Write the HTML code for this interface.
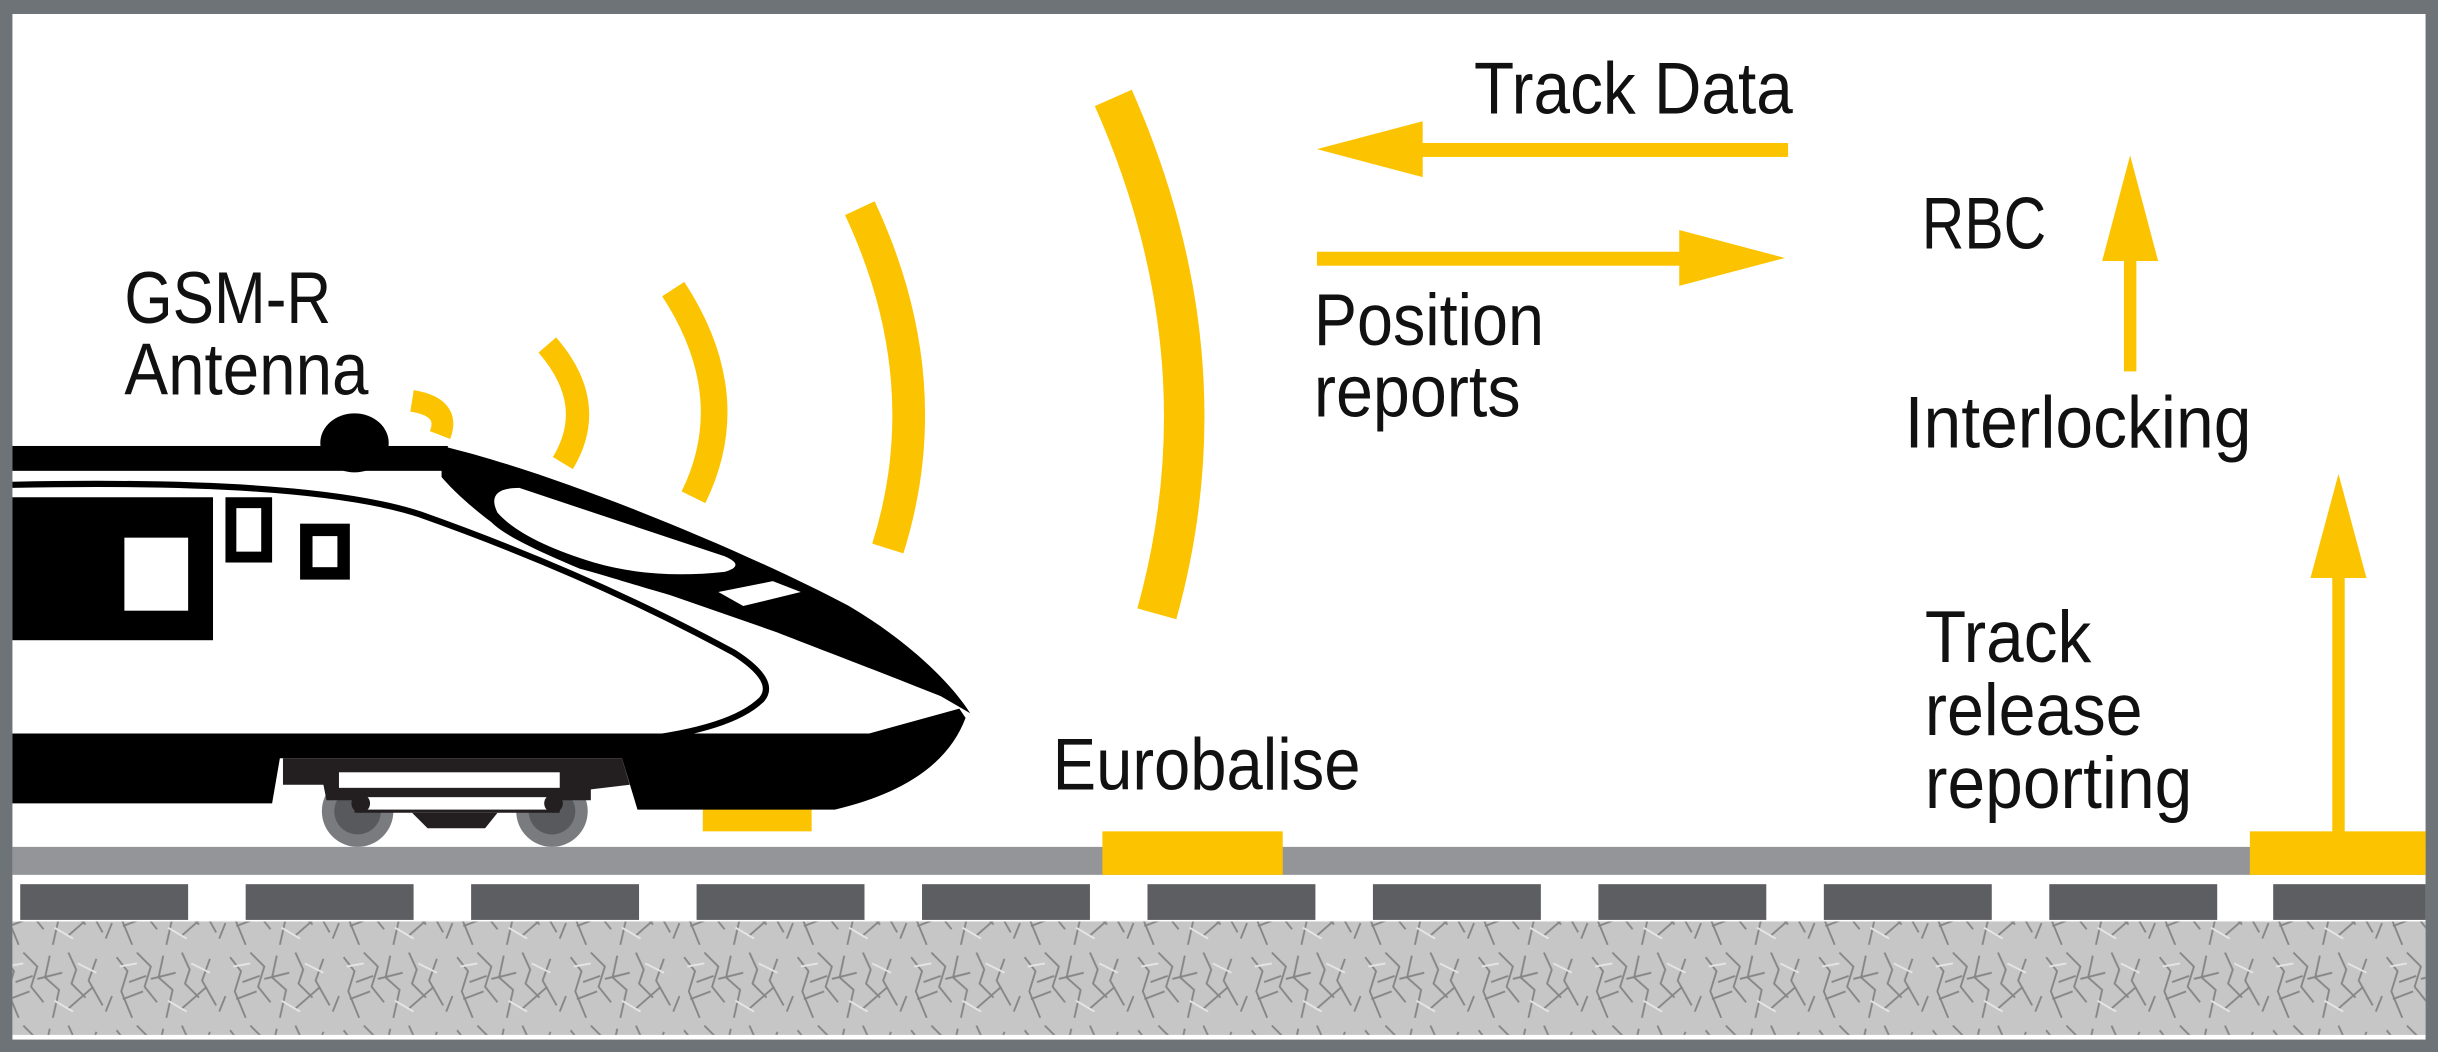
<!DOCTYPE html>
<html><head><meta charset="utf-8"><style>
html,body{margin:0;padding:0;background:#6d7376;}
svg{display:block;}
text{font-family:"Liberation Sans Narrow","Liberation Sans",sans-serif;fill:#111;font-size:47px;}
</style></head><body>
<svg width="2438" height="1052" viewBox="0 0 1568 677" preserveAspectRatio="none" xmlns="http://www.w3.org/2000/svg">
<defs>
<pattern id="bal" width="73" height="47" patternUnits="userSpaceOnUse">
<rect width="73" height="47" fill="#c6c6c6"/>
<path d="M2 5 L9 14 L5 27 L12 44 M15 2 L24 11 L20 24 L28 34 M32 4 L29 18 L38 26 L34 44 M44 2 L49 13 L46 22 L55 31 M62 6 L57 20 L66 36 M6 32 L19 27 M24 19 L40 15 M44 38 L60 24 M10 21 L21 17 M68 40 L72 30" stroke="#858585" stroke-width="1.2" fill="none"/>
<path d="M4 11 L15 9 M35 33 L47 40 M50 9 L62 15" stroke="#e6e6e6" stroke-width="1.2" fill="none"/>
</pattern>
</defs>
<rect x="0" y="0" width="1568" height="677" fill="#6d7376"/>
<rect x="8" y="9" width="1552" height="660" fill="#fff"/>
<rect x="8" y="593" width="1552" height="73" fill="url(#bal)"/>
<g fill="#5d5e62">
<rect x="13" y="569" width="108" height="23"/><rect x="158" y="569" width="108" height="23"/>
<rect x="303" y="569" width="108" height="23"/><rect x="448" y="569" width="108" height="23"/>
<rect x="593" y="569" width="108" height="23"/><rect x="738" y="569" width="108" height="23"/>
<rect x="883" y="569" width="108" height="23"/><rect x="1028" y="569" width="108" height="23"/>
<rect x="1173" y="569" width="108" height="23"/><rect x="1318" y="569" width="108" height="23"/>
<rect x="1462" y="569" width="98" height="23"/>
</g>
<circle cx="230" cy="522" r="23" fill="#7a7b7f"/><circle cx="230" cy="522" r="15" fill="#58595c"/>
<circle cx="355" cy="522" r="23" fill="#7a7b7f"/><circle cx="355" cy="522" r="15" fill="#58595c"/>
<rect x="8" y="545" width="1552" height="18" fill="#939598"/>
<g fill="#fcc400">
<rect x="709" y="535" width="116" height="28"/>
<rect x="1447" y="535" width="113" height="28"/>
<rect x="452" y="517" width="70" height="18"/>
</g>
<g>
<ellipse cx="228" cy="285" rx="22" ry="19" fill="#000"/>
<rect x="8" y="287" width="280" height="16" fill="#000"/>
<path d="M284,287 C360,305 480,355 546,390 C585,413 612,440 624,459 L605,448 C560,430 520,415 500,407 L431,383 C400,374 385,369 373,366 C345,354 325,345 316,336 C300,324 290,314 284,307 Z" fill="#000"/>
<path d="M334,314 L466,358 Q480,364 466,368 Q420,373 382,362 Q336,348 320,330 Q312,314 334,314 Z" fill="#fff"/>
<path d="M462,381 L497,374 L515,381 L478,390 Z" fill="#fff"/>
<path d="M8 312 Q200 308 270 331 Q380 370 472 420 Q500 438 490 450 Q470 470 403 477" stroke="#000" stroke-width="4" fill="none"/>
<rect x="8" y="320" width="129" height="92" fill="#000"/>
<rect x="80" y="346" width="41" height="47" fill="#fff"/>
<rect x="145" y="320" width="30" height="42" fill="#000"/><rect x="152" y="327" width="16" height="28" fill="#fff"/>
<rect x="193" y="337" width="32" height="36" fill="#000"/><rect x="201" y="345" width="16" height="20" fill="#fff"/>
<path d="M8 472 L559 472 L617 456 L621 462 Q605 505 537 521 L410 521 L400 488 L180 488 L175 517 L8 517 Z" fill="#000"/>
<path d="M182 488 L400 488 L405 505 L380 508 L380 515 L360 515 L360 523 L228 523 L228 515 L210 515 L208 505 L182 505 Z" fill="#231f20"/>
<rect x="218" y="497" width="142" height="10" fill="#fff"/>
<rect x="232" y="513" width="126" height="8" fill="#fff"/>
<circle cx="232" cy="517" r="6" fill="#231f20"/><circle cx="356" cy="517" r="6" fill="#231f20"/>
<path d="M265 523 L320 523 L312 533 L275 533 Z" fill="#231f20"/>
</g>
<g fill="none" stroke="#fcc400" stroke-linecap="butt">
<path d="M265 258 Q290 262 283 280" stroke-width="14"/>
<path d="M352 222 Q385 260 362 298" stroke-width="15"/>
<path d="M433 186 Q478 255 446 320" stroke-width="17"/>
<path d="M553 134 Q605 245 571 353" stroke-width="21"/>
<path d="M716 63 Q790 230 744 395" stroke-width="26"/>
</g>
<g fill="#fcc400">
<rect x="910" y="92" width="240" height="9"/>
<polygon points="847,96 915,78 915,114"/>
<rect x="847" y="162" width="240" height="9"/>
<polygon points="1148,166 1080,148 1080,184"/>
<rect x="1366" y="165" width="8" height="74"/>
<polygon points="1370,100 1352,168 1388,168"/>
<rect x="1500" y="368" width="8" height="168"/>
<polygon points="1504,305 1486,372 1522,372"/>
</g>
<text x="948" y="73" textLength="205" lengthAdjust="spacingAndGlyphs">Track Data</text>
<text x="1236" y="160" textLength="80" lengthAdjust="spacingAndGlyphs">RBC</text>
<text x="845" y="222" textLength="148" lengthAdjust="spacingAndGlyphs">Position</text>
<text x="845" y="268" textLength="133" lengthAdjust="spacingAndGlyphs">reports</text>
<text x="1225" y="288" textLength="223" lengthAdjust="spacingAndGlyphs">Interlocking</text>
<text x="1238" y="426" textLength="107" lengthAdjust="spacingAndGlyphs">Track</text>
<text x="1238" y="473" textLength="140" lengthAdjust="spacingAndGlyphs">release</text>
<text x="1238" y="520" textLength="172" lengthAdjust="spacingAndGlyphs">reporting</text>
<text x="677" y="508" textLength="198" lengthAdjust="spacingAndGlyphs">Eurobalise</text>
<text x="80" y="208" textLength="133" lengthAdjust="spacingAndGlyphs">GSM-R</text>
<text x="80" y="254" textLength="157" lengthAdjust="spacingAndGlyphs">Antenna</text>
</svg>
</body></html>
